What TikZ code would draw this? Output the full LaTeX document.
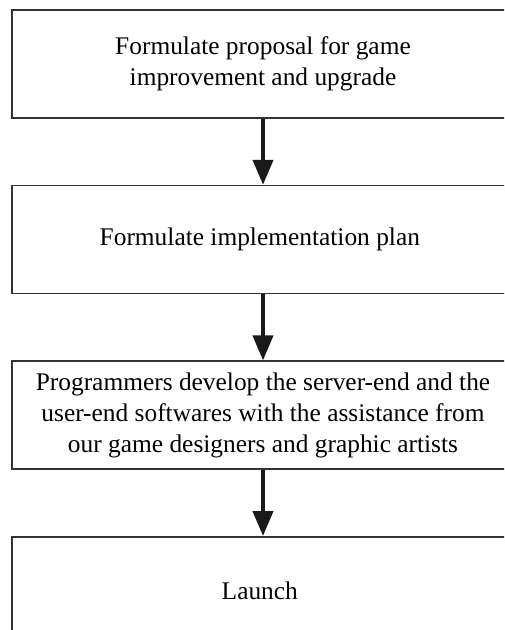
\documentclass[tikz,border=0pt]{standalone}
\usepackage{fontspec}
\setmainfont{Liberation Serif}
\usetikzlibrary{positioning,arrows.meta}

\begin{document}
\begin{tikzpicture}[ x=0.5pt, y=-0.5pt, node distance=33pt,
	  stepbox/.style={ draw=black!80, line width=0.8pt, minimum width=251pt, minimum height=54pt,
	                   inner sep=0pt, align=center, font=\fontsize{12.7}{15.5}\selectfont },
	  flow/.style={ line width=2pt, draw=black!90, -{Triangle[width=10pt,length=12.5pt]} } ]
	  \useasboundingbox (0,0) rectangle (504,630);
	  \clip (0,0) rectangle (504,630);

	  \node [ stepbox ] (proposal) at (263,64) { Formulate proposal for game\\improvement and upgrade };
	  \node [ stepbox, below=of proposal ] (plan) { Formulate implementation plan };
	  \node [ stepbox, below=of plan ] (develop) { Programmers develop the server-end and the\\user-end softwares with the assistance from\\our game designers and graphic artists };
	  \node [ stepbox, below=of develop ] (launch) { Launch };

	  \draw [ flow ] (proposal) -- (plan);
	  \draw [ flow ] (plan) -- (develop);
	  \draw [ flow ] (develop) -- (launch);
	\end{tikzpicture}
\end{document}
